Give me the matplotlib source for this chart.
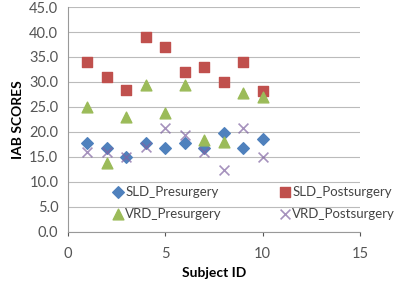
import numpy as np
import matplotlib.pyplot as plt

subject_id = [1, 2, 3, 4, 5, 6, 7, 8, 9, 10]
sld_pre = [17.7, 16.7, 15.0, 17.7, 16.7, 17.7, 16.7, 19.7, 16.7, 18.5]
sld_post = [34.0, 31.0, 28.3, 38.9, 36.9, 32.0, 33.0, 30.0, 33.9, 28.2]
vrd_pre = [24.9, 13.7, 22.9, 29.3, 23.7, 29.3, 18.3, 18.0, 27.7, 27.0]
vrd_post = [16.0, 16.0, 15.0, 17.0, 20.7, 19.3, 16.0, 12.3, 20.7, 15.0]

plt.rcParams['font.family'] = ['Lato', 'DejaVu Sans']

fig = plt.figure(figsize=(4, 2.81), dpi=100)
ax = fig.add_axes([0.17, 0.175, 0.73, 0.8])

h1 = ax.scatter(subject_id, sld_pre, marker='D', s=35, color='#4F81BD', label='SLD_Presurgery', zorder=3)
h2 = ax.scatter(subject_id, sld_post, marker='s', s=60, color='#C0504D', label='SLD_Postsurgery', zorder=3)
h3 = ax.scatter(subject_id, vrd_pre, marker='^', s=60, color='#9BBB59', label='VRD_Presurgery', zorder=3)
h4 = ax.scatter(subject_id, vrd_post, marker='x', s=50, color='#8064A2', linewidths=1.2,
                label='VRD_Postsurgery', zorder=3, alpha=0.7)

ax.set_xlim(0, 15)
ax.set_ylim(0, 45)
ax.set_xticks([0, 5, 10, 15])
ax.set_yticks(np.arange(0, 46, 5))
ax.set_yticklabels([f'{v:.1f}' for v in np.arange(0, 46, 5)])
ax.tick_params(labelsize=10.5, colors='#555555', length=3)
ax.tick_params(axis='x', pad=8)
ax.tick_params(axis='y', length=0, pad=7)
ax.grid(axis='y', color='#BBBBBB', linewidth=0.8)
ax.set_axisbelow(True)
for side in ['top', 'right']:
    ax.spines[side].set_visible(False)
for side in ['left', 'bottom']:
    ax.spines[side].set_color('#999999')

ax.set_xlabel('Subject ID', fontsize=10, fontweight='bold', labelpad=4)
ax.set_ylabel('IAB SCORES', fontsize=10, fontweight='bold', labelpad=4)

leg = ax.legend([h1, h3, h2, h4],
                ['SLD_Presurgery', 'VRD_Presurgery', 'SLD_Postsurgery', 'VRD_Postsurgery'],
                ncol=2, loc='lower left', bbox_to_anchor=(0.13, 0.03), frameon=False,
                fontsize=9.5, handletextpad=0.05, columnspacing=4.3, borderaxespad=0,
                labelspacing=0.75, handlelength=1.0)
for t in leg.get_texts():
    t.set_color('#444444')

fig.savefig('out.png', dpi=100)
